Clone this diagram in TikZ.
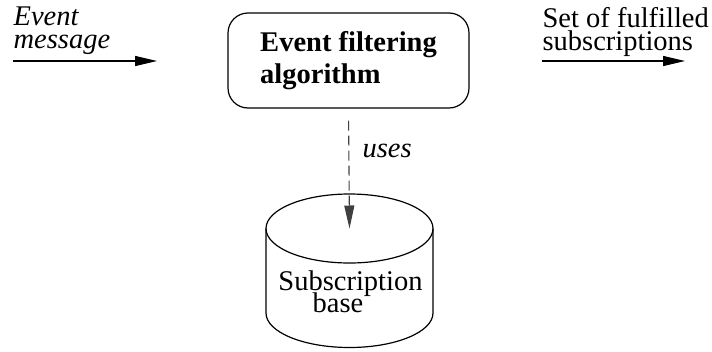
\documentclass[tikz,border=0pt]{standalone}
\usepackage{fontspec}
\setmainfont{Liberation Serif}
\usetikzlibrary{arrows.meta}

\begin{document}
\begin{tikzpicture}[x=1pt,y=-1pt,
  line width=1.2pt,
  txt/.style={inner sep=0pt,font=\fontsize{28.5}{23.5}\selectfont,align=left,anchor=north west},
  flow/.style={-{Triangle[length=22pt,width=10pt]}},
  procbox/.style={draw,rounded corners=20pt,minimum width=241pt,minimum height=95pt,
    align=left,font=\fontsize{28.5}{32}\selectfont\bfseries,inner sep=0pt},
  useslink/.style={draw=black!75,line width=1.1pt,dash pattern=on 10pt off 5pt,
    -{Triangle[length=23pt,width=10pt]}}]
  \useasboundingbox (0,0) rectangle (712,351);

  % central processing step
  \node[procbox] (algo) at (348.5,60.5) {Event filtering\\algorithm};

  % input and output flows
  \coordinate (inA) at (13,61);
  \coordinate (inB) at (157,61);
  \coordinate (outA) at (542,61);
  \coordinate (outB) at (685,61);
  \draw[flow] (inA) -- (inB);
  \draw[flow] (outA) -- (outB);
  \node[txt,font=\fontsize{28.5}{23.5}\selectfont\itshape] (inlbl) at (13,6) {Event\\message};
  \node[txt] (outlbl) at (542,6.5) {Set of fulfilled\\subscriptions};

  % subscription store (cylinder)
  \coordinate (dbtop) at (349.5,228.5);
  \draw (266,228.5) -- (266,313) arc[start angle=180,end angle=360,x radius=83.5pt,y radius=34.5pt]
        -- (433,228.5);
  \draw (dbtop) ellipse[x radius=83.5pt,y radius=34.5pt];
  \node[inner sep=0pt,anchor=base,font=\fontsize{28.5}{22}\selectfont] (dblbl1) at (350.5,290) {Subscription};
  \node[inner sep=0pt,anchor=base,font=\fontsize{28.5}{22}\selectfont] (dblbl2) at (338,312) {base};

  % dependency on the store
  \draw[useslink,shorten <=12pt] (algo.south) -- (dbtop);
  \node[inner sep=0pt,anchor=base west,font=\fontsize{28.5}{22}\selectfont\itshape] (uses) at (362,157) {uses};
\end{tikzpicture}
\end{document}
